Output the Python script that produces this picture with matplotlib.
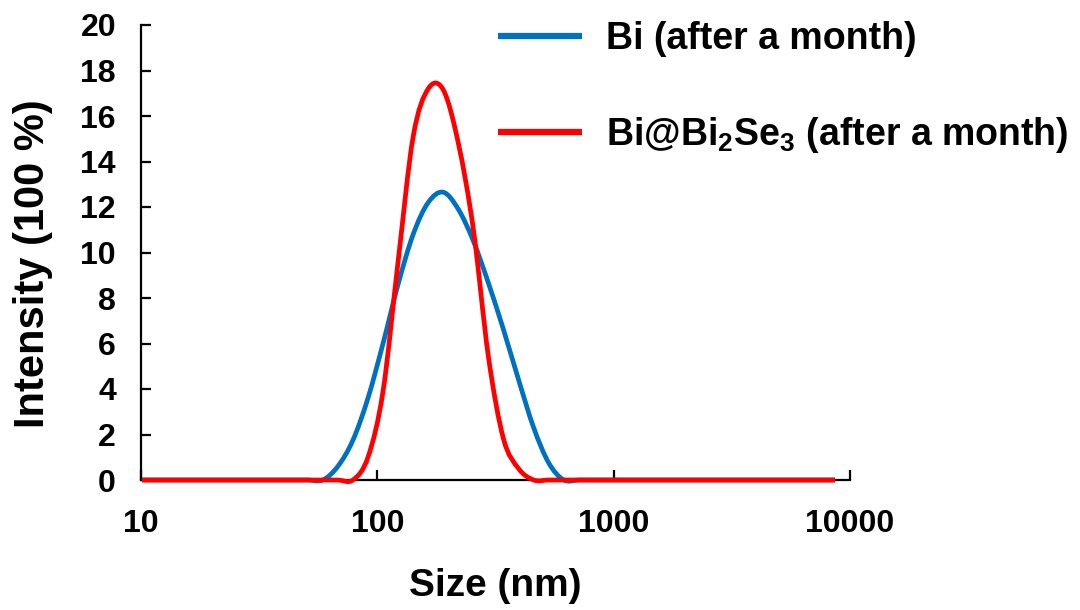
import numpy as np
import matplotlib
matplotlib.use("Agg")
import matplotlib.pyplot as plt
from matplotlib.path import Path
from matplotlib.patches import PathPatch
from matplotlib.lines import Line2D

plt.rcParams['font.family'] = ['Liberation Sans', 'DejaVu Sans']
plt.rcParams['font.weight'] = 'bold'
plt.rcParams['mathtext.fontset'] = 'custom'
plt.rcParams['mathtext.rm'] = 'Liberation Sans:bold'
plt.rcParams['mathtext.it'] = 'Liberation Sans:bold'
plt.rcParams['mathtext.bf'] = 'Liberation Sans:bold'

# DLS size bins (nm)
sizes = [10.10, 11.70, 13.54, 15.69, 18.17, 21.04, 24.36, 28.21, 32.67, 37.84,
         43.82, 50.75, 58.77, 68.06, 78.82, 91.28, 105.7, 122.4, 141.8, 164.2,
         190.1, 220.2, 255.0, 295.3, 342.0, 396.1, 458.7, 531.2, 615.1, 712.4,
         825.0, 955.4, 1106, 1281, 1484, 1718, 1990, 2305, 2669, 3091,
         3580, 4145, 4801, 5560, 6439, 7456, 8635]

bi_month = [0, 0, 0, 0, 0, 0, 0, 0, 0, 0,
            0, 0, 0, 0.6, 1.75, 3.6, 6.0, 8.6, 10.8, 12.2,
            12.65, 11.9, 10.5, 8.65, 6.6, 4.4, 2.3, 0.75, 0, 0,
            0, 0, 0, 0, 0, 0, 0, 0, 0, 0,
            0, 0, 0, 0, 0, 0, 0]

bibise_month = [0, 0, 0, 0, 0, 0, 0, 0, 0, 0,
                0, 0, 0, 0, 0, 1.0, 3.9, 9.6, 15.1, 17.2,
                17.15, 14.8, 11.0, 5.4, 1.8, 0.5, 0, 0, 0, 0,
                0, 0, 0, 0, 0, 0, 0, 0, 0, 0,
                0, 0, 0, 0, 0, 0, 0]

labels = ["Bi (after a month)", r"Bi@Bi$_{2}$Se$_{3}$ (after a month)"]
colors = ["#0070C0", "#FF0000"]
xticks = [10, 100, 1000, 10000]
yticks = list(range(0, 21, 2))


def smooth_path(xs, ys):
    """Excel-like smoothed line: Catmull-Rom Bezier in (log10 x, y) space."""
    u = np.log10(np.asarray(xs, float))
    v = np.asarray(ys, float)
    pts = np.column_stack([u, v])
    n = len(pts)
    verts = [pts[0]]
    codes = [Path.MOVETO]
    for i in range(n - 1):
        p0 = pts[i - 1] if i > 0 else pts[i]
        p1 = pts[i]
        p2 = pts[i + 1]
        p3 = pts[i + 2] if i + 2 < n else pts[i + 1]
        c1 = p1 + (p2 - p0) / 6.0
        c2 = p2 - (p3 - p1) / 6.0
        verts += [c1, c2, p2]
        codes += [Path.CURVE4] * 3
    verts = np.array(verts)
    verts[:, 0] = 10 ** verts[:, 0]
    return Path(verts, codes)


fig = plt.figure(figsize=(10.8, 6.1), dpi=100)
ax = fig.add_axes([141 / 1080, 1 - 480 / 610, (850 - 141) / 1080, (480 - 25) / 610])
ax.set_xscale('log')
ax.set_xlim(10, 10000)
ax.set_ylim(0, 20)

handles = []
for ys, c, lab in [(bi_month, colors[0], labels[0]), (bibise_month, colors[1], labels[1])]:
    patch = PathPatch(smooth_path(sizes, ys), fill=False, edgecolor=c, lw=3.4,
                      transform=ax.transData, zorder=5, clip_on=False,
                      capstyle='butt', joinstyle='round')
    ax.add_patch(patch)
    handles.append(Line2D([], [], color=c, lw=4.5, solid_capstyle='butt', label=lab))

for s in ['top', 'right']:
    ax.spines[s].set_visible(False)
for s in ['left', 'bottom']:
    ax.spines[s].set_linewidth(1.6)
    ax.spines[s].set_color('black')

ax.set_xticks(xticks)
ax.set_xticklabels([str(t) for t in xticks])
ax.xaxis.set_minor_locator(matplotlib.ticker.NullLocator())
ax.set_yticks(yticks)
ax.set_yticklabels([str(t) for t in yticks])
ax.tick_params(axis='both', direction='in', length=7.5, width=1.6, labelsize=23)
ax.tick_params(axis='y', pad=18)
ax.tick_params(axis='x', pad=21)

ax.set_xlabel("Size (nm)", fontsize=28, fontweight='bold', labelpad=21)
ax.set_ylabel("Intensity (100 %)", fontsize=30, fontweight='bold')
ax.yaxis.set_label_coords(-0.124, 0.475)

leg = fig.legend(handles=handles, loc='upper left', bbox_to_anchor=(483 / 1080, 1 - 6 / 610),
                 frameon=False, fontsize=27, handlelength=2.24, handletextpad=0.64,
                 labelspacing=1.55, borderaxespad=0)

fig.savefig("out.png", dpi=100)
